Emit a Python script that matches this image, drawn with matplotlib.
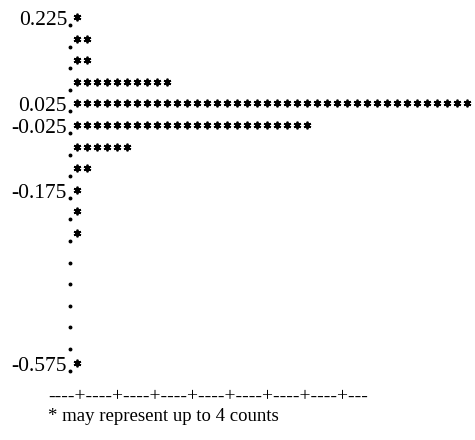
import numpy as np
import matplotlib.pyplot as plt
from matplotlib.transforms import ScaledTranslation

# histogram rows (bin midpoints) and number of stars printed on each row
bins = [0.225, 0.175, 0.125, 0.075, 0.025, -0.025, -0.075, -0.125, -0.175,
        -0.225, -0.275, -0.325, -0.375, -0.425, -0.475, -0.525, -0.575]
stars = [1, 2, 2, 10, 40, 24, 6, 2, 1, 1, 1, 0, 0, 0, 0, 0, 1]
labeled = ['0.225', '0.025', '-0.025', '-0.175', '-0.575']
n_ticks = 8
note = '* may represent up to 4 counts'

serif = 'Liberation Serif'
step = 0.05
pitch = 21.6    # px between rows
top_base = 25.0  # px, baseline of first row

fig = plt.figure(figsize=(4.75, 4.4), dpi=100)
ax = fig.add_axes([0, 0, 1, 1])
ax.axis('off')
ax.set_xlim(-6.7, 40.8)
ax.set_ylim(bins[0] - (440 - top_base) / pitch * step,
            bins[0] + top_base / pitch * step)

# stars sit a little above the baseline of each row
up = ScaledTranslation(0, 8 / 100, fig.dpi_scale_trans)
for v, n in zip(bins, stars):
    k = np.arange(1, n + 1)
    ax.plot(k, np.full(n, v), ls='none', marker=(6, 2, 0), ms=5.5, mew=1.3,
            color='black', transform=ax.transData + up)

# the column of dots forming the vertical axis
ax.plot(np.full(len(bins), 0.3), bins, ls='none', marker='o', ms=1.8,
        color='black')

for lab in labeled:
    ax.text(0.0, float(lab), lab, ha='right', va='baseline', fontsize=15.5,
            family=serif)

# horizontal count axis and the footnote
ax.text(-1.9, bins[-1] - 31 / pitch * step, '----+' * n_ticks + '---',
        ha='left', va='baseline', fontsize=14, family=serif)
ax.text(-1.9, bins[-1] - 50 / pitch * step, note, ha='left', va='baseline',
        fontsize=13.5, family=serif)

fig.savefig('out.png', dpi=100)
